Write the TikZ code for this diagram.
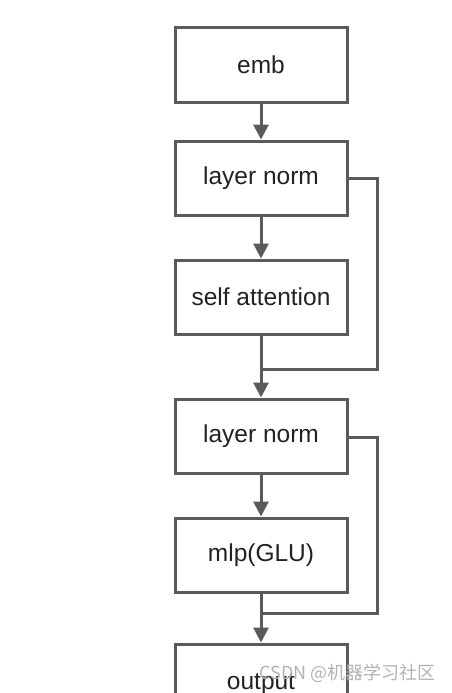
\documentclass[tikz,border=0pt]{standalone}
\usepackage{fontspec}
\setmainfont{Liberation Sans}
\newfontfamily\cjkfont{Noto Sans CJK SC}
\usetikzlibrary{arrows.meta}
\definecolor{linegray}{HTML}{5A5A5A}
\definecolor{txtgray}{HTML}{222222}
\tikzset{
  blockbox/.style={draw=linegray, line width=3pt, minimum width=172pt, minimum height=74pt,
    inner sep=0pt, font=\fontsize{24.5}{28}\selectfont, text=txtgray},
  flowarrow/.style={draw=linegray, line width=3pt, -{Triangle[length=15pt,width=15pt]}},
  resline/.style={draw=linegray, line width=3pt}
}
\begin{document}
\begin{tikzpicture}[x=1pt,y=-1pt]
\useasboundingbox (0,0) rectangle (451,693);
\node[blockbox] (emb) at (261,65) {emb};
\node[blockbox] (ln1) at (261,178) {layer norm};
\node[blockbox] (sa) at (261,297) {self attention};
\node[blockbox] (ln2) at (261,436) {layer norm};
\node[blockbox] (mlp) at (261,555) {mlp(GLU)};
\node[blockbox, minimum height=80pt] (out) at (261,684) {output};
\coordinate (r1) at (377,178);
\coordinate (j1) at (261,369);
\coordinate (r2) at (377,437);
\coordinate (j2) at (261,613);
\draw[flowarrow] (emb.south) -- (ln1.north);
\draw[flowarrow] (ln1.south) -- (sa.north);
\draw[flowarrow] (sa.south) -- (ln2.north);
\draw[flowarrow] (ln2.south) -- (mlp.north);
\draw[flowarrow] (mlp.south) -- (out.north);
\draw[resline] (ln1.east) -- (r1) |- (j1);
\draw[resline] (ln2.east |- r2) -- (r2) |- (j2);
\node[text=black!30, font=\cjkfont\fontsize{18}{20}\selectfont, anchor=east, inner sep=0pt] (wm) at (436,673) {CSDN @机器学习社区};
\end{tikzpicture}
\end{document}
